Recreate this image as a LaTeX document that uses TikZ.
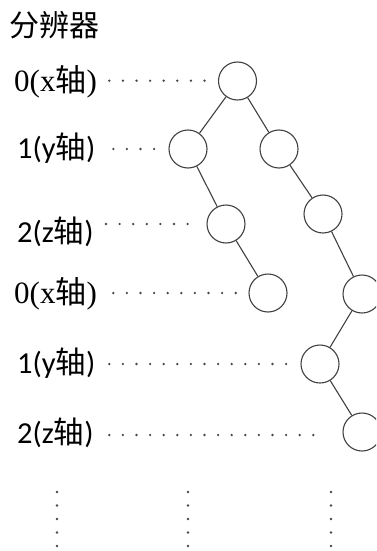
\documentclass[tikz,border=0pt]{standalone}
\usepackage{fontspec}
\setmainfont{Liberation Serif}
\newfontfamily\calfont{Carlito}
\newfontfamily\cjk{Noto Sans CJK SC}
\begin{document}
\begin{tikzpicture}[x=1pt,y=-1pt,
  kdnode/.style={circle,draw=black!75,line width=1.1pt,minimum size=38pt,inner sep=0pt},
  edge/.style={draw=black!75,line width=1.1pt},
  lbl/.style={anchor=base west,inner sep=0pt,font=\fontsize{31}{31}\selectfont},
  slbl/.style={anchor=base west,inner sep=0pt,font=\fontsize{30.5}{30.5}\selectfont},
  dotc/.style={fill=black!72}]
\useasboundingbox (0,0) rectangle (376,551);
\clip (0,0) rectangle (376,551);
\node[anchor=west,inner sep=0pt,font=\fontsize{30}{30}\cjk] (title) at (9,25) {分辨器};
% labels
\node[lbl] (l0) at (14,92) {0(x{\cjk 轴})};
\node[slbl] (l1) at (17,158) {\calfont 1(y{\cjk 轴})};
\node[slbl] (l2) at (17,242) {\calfont 2(z{\cjk 轴})};
\node[lbl] (l3) at (14,303) {0(x{\cjk 轴})};
\node[slbl] (l4) at (17,373) {\calfont 1(y{\cjk 轴})};
\node[slbl] (l5) at (17,443) {\calfont 2(z{\cjk 轴})};
% tree
\node[kdnode] (A) at (237.5,81) {};
\node[kdnode] (B) at (188,149) {};
\node[kdnode] (C) at (279,149) {};
\node[kdnode] (D) at (226,224) {};
\node[kdnode] (E) at (323,214) {};
\node[kdnode] (F) at (268,293) {};
\node[kdnode] (G) at (362,294) {};
\node[kdnode] (H) at (320,364) {};
\node[kdnode] (I) at (362,432) {};
\draw[edge] (A) -- (B);
\draw[edge] (A) -- (C);
\draw[edge] (B) -- (D);
\draw[edge] (D) -- (F);
\draw[edge] (C) -- (E);
\draw[edge] (E) -- (G);
\draw[edge] (G) -- (H);
\draw[edge] (H) -- (I);
% dotted guides
\foreach \sx/\n/\yy in {109.3/8/80.7, 113.3/4/149, 106/7/224, 113.3/10/293, 109.3/14/364, 109.3/16/435}{
  \pgfmathtruncatemacro{\m}{\n-1}
  \foreach \k in {0,...,\m}{
    \fill[dotc] (\sx+13.6*\k,\yy) circle (1.3);
  }
}
\foreach \xx in {57,188,331}{
  \foreach \k in {0,...,4}{
    \fill[dotc] (\xx,492+13.5*\k) circle (1.3);
  }
}
\end{tikzpicture}
\end{document}
